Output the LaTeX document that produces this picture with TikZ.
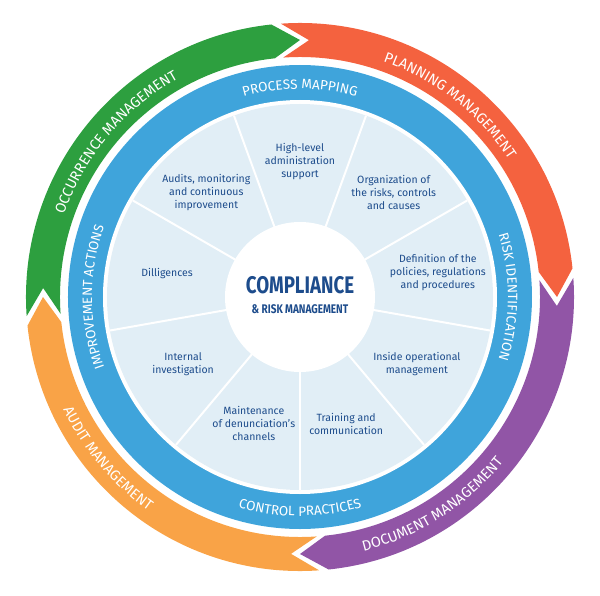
\documentclass[tikz,border=0pt]{standalone}
\usepackage{fontspec}
\setmainfont{Fira Sans}
\usetikzlibrary{decorations.text}
\definecolor{cgreen}{HTML}{2D9F3F}
\definecolor{cred}{HTML}{F4623F}
\definecolor{cpurple}{HTML}{9155A6}
\definecolor{corange}{HTML}{F9A347}
\definecolor{cblue}{HTML}{3FA4DB}
\definecolor{clight}{HTML}{E1EEF6}
\definecolor{cnavy}{HTML}{1D4C8C}
\newcommand{\chev}[2]{% start angle, colour
  \pgfmathsetmacro{\e}{#1-88}
  \fill[#2] (#1:274) arc[start angle=#1,end angle=\e,radius=274] -- (\e-6:257) -- (\e:240)
    arc[start angle=\e,end angle=#1,radius=240] -- (#1-6:257) -- cycle;}
\tikzset{
  seg/.style={text=cnavy,align=center,font=\fontsize{10.5}{13}\selectfont},
}
\newcommand{\arclabel}[5]{% radius, start, end, size, text
  \path[decorate,decoration={text along path,text align=center,
     text={|\fontsize{#4}{#4}\selectfont\color{white}|#5}}]
     (#2:#1) arc[start angle=#2,end angle=#3,radius=#1];}
\begin{document}
\begin{tikzpicture}[x=1pt,y=1pt]
\useasboundingbox (-300,-298) rectangle (300,297);
\chev{184}{cgreen}
\chev{94}{cred}
\chev{4}{cpurple}
\chev{-86}{corange}
\arclabel{250}{172}{108}{14.5}{OCCURRENCE MANAGEMENT}
\arclabel{250}{87}{17}{14.5}{PLANNING MANAGEMENT}
\arclabel{262}{-105}{-10}{14.5}{DOCUMENT MANAGEMENT}
\arclabel{262}{170}{270}{14.5}{AUDIT MANAGEMENT}
\fill[cblue] (0,0) circle (232);
\fill[white] (0,0) circle (197);
\fill[clight] (0,0) circle (193);
\foreach \a in {110,150,...,430} \draw[white,line width=2pt] (0,0) -- (\a:193);
\node[circle,fill=white,minimum size=150pt,inner sep=0pt] (c) at (0,0) {};
\arclabel{208}{125}{55}{13.5}{PROCESS MAPPING}
\arclabel{208}{40}{-40}{13.5}{RISK IDENTIFICATION}
\arclabel{219}{-128}{-52}{13.5}{CONTROL PRACTICES}
\arclabel{208}{220}{140}{13.5}{IMPROVEMENT ACTIONS}
\node[text=cnavy,font=\bfseries] (t1) at (0,12) {\scalebox{0.78}[1]{\fontsize{24}{24}\selectfont COMPLIANCE}};
\node[text=cnavy,font=\bfseries] (t2) at (0,-12) {\scalebox{0.8}[1]{\fontsize{12.5}{12.5}\selectfont \& RISK MANAGEMENT}};
\node[seg] (s1) at (90:135) {High-level\\administration\\support};
\node[seg] (s2) at (48:140) {Organization of\\the risks, controls\\and causes};
\node[seg] (s3) at (10:140) {Definition of the\\policies, regulations\\and procedures};
\node[seg] (s4) at (-30:135) {Inside operational\\management};
\node[seg] (s5) at (-70:135) {Training and\\communication};
\node[seg] (s6) at (-110:135) {Maintenance\\of denunciation's\\channels};
\node[seg] (s7) at (-150:135) {Internal\\investigation};
\node[seg] (s8) at (170:135) {Dilligences};
\node[seg] (s9) at (132:140) {Audits, monitoring\\and continuous\\improvement};
\end{tikzpicture}
\end{document}
